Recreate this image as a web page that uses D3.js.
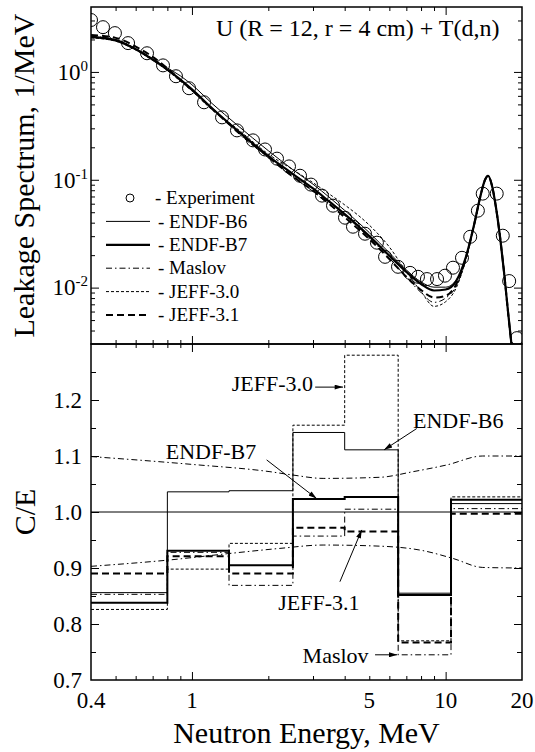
<!DOCTYPE html>
<html>
<head>
<meta charset="utf-8">
<script src="https://cdn.jsdelivr.net/npm/d3@7"></script>
</head>
<body style="margin:0;background:#fff">
<div id="chart"></div>
<script>
const width = 535, height = 752;
const left = 91, right = 522, top1 = 7, mid = 344, bottom2 = 680;
const FONT = "Liberation Serif";

// ---- spectrum data (1/MeV) ----
const energy  = [0.4,0.5,0.6,0.7,0.8,0.9,1.0,1.2,1.5,2.0,2.5,3.0,3.5,4.0,5.0,6.0,7.0,8.0,9.0,10,11,12,13,13.7,14.3,14.7,15.2,15.8,16.4,17.0,17.6,18.2];
const endfB6  = [2.12,1.98,1.64,1.32,1.09,0.92,0.76,0.51,0.325,0.186,0.124,0.091,0.068,0.052,0.0324,0.0210,0.0146,0.0113,0.0101,0.0101,0.0117,0.019,0.040,0.070,0.100,0.109,0.090,0.055,0.029,0.0138,0.0061,0.0029];
const endfB7  = [2.10,1.96,1.62,1.30,1.05,0.85,0.69,0.46,0.29,0.166,0.113,0.083,0.062,0.048,0.030,0.0198,0.0140,0.0108,0.0094,0.0096,0.0115,0.019,0.040,0.070,0.100,0.109,0.090,0.055,0.029,0.0138,0.0061,0.0029];
const maslov  = [2.14,2.00,1.65,1.33,1.05,0.85,0.69,0.46,0.278,0.160,0.106,0.078,0.058,0.0466,0.029,0.0188,0.0125,0.0090,0.0073,0.0080,0.0103,0.018,0.039,0.069,0.099,0.109,0.090,0.055,0.029,0.0138,0.0061,0.0029];
const jeff30  = [2.07,1.93,1.60,1.28,1.03,0.82,0.665,0.445,0.30,0.173,0.124,0.094,0.073,0.0585,0.038,0.0238,0.0140,0.0092,0.0067,0.0074,0.0099,0.018,0.039,0.069,0.100,0.109,0.090,0.055,0.029,0.0138,0.0061,0.0029];
const jeff31  = [2.20,2.07,1.72,1.38,1.08,0.84,0.68,0.455,0.285,0.163,0.107,0.079,0.059,0.045,0.0282,0.0184,0.0126,0.0095,0.0081,0.0084,0.0107,0.0185,0.040,0.070,0.100,0.109,0.090,0.055,0.029,0.0138,0.0061,0.0029];

const expE = [0.400,0.446,0.497,0.560,0.665,0.769,0.865,0.974,1.116,1.314,1.505,1.740,1.941,2.164,2.413,2.667,2.946,3.256,3.598,4.012,4.313,4.81,5.36,5.77,6.49,7.24,7.78,8.44,9.25,9.94,10.69,11.6,12.5,13.4,14.0,15.9,16.8,17.8,19.1];
const expV = [3.03,2.60,2.29,1.85,1.49,1.15,0.912,0.706,0.523,0.379,0.287,0.232,0.191,0.157,0.133,0.109,0.0902,0.0713,0.0575,0.0445,0.0367,0.0316,0.0261,0.0193,0.0156,0.0137,0.0126,0.0120,0.0120,0.0129,0.0153,0.0189,0.0296,0.0517,0.0744,0.0744,0.0303,0.0115,0.0034];

// ---- C/E data, one value per energy group ----
const binEdges = [0.4,0.8,1.4,2.5,4,6.5,10.5,20];
const ceB6     = [0.856,1.036,1.038,1.142,1.111,0.855,1.015];
const ceB7     = [0.838,0.931,0.905,1.023,1.027,0.852,1.022];
const ceMaslov = [0.853,0.928,0.869,0.957,1.005,0.745,1.006];
const ceJeff30 = [0.826,0.898,0.944,1.155,1.280,0.770,1.027];
const ceJeff31 = [0.890,0.921,0.890,0.972,0.965,0.767,0.997];

// experimental uncertainty corridor
const bandUpE = [0.4,1.0,2.03,2.5,3.29,5.51,7.44,10.1,14.0,20];
const bandUpV = [1.099,1.085,1.072,1.066,1.060,1.062,1.072,1.084,1.100,1.100];
const bandLoE = [0.4,0.8,1.41,2.22,3.29,5.51,8.14,10.7,14.0,20];
const bandLoV = [0.903,0.914,0.926,0.935,0.941,0.939,0.931,0.917,0.901,0.900];

// ticks / labels
const xLabels = [0.4, 1, 5, 10, 20];
const xMajor = [1, 10];
const xMinor = [0.5,0.6,0.7,0.8,0.9,2,3,4,5,6,7,8,9];
const yTopMajor = [0.01, 0.1, 1];
const yTopLabels = [["10","-2",0.01],["10","-1",0.1],["10","0",1]];
const yTopMinor = [0.004,0.005,0.006,0.007,0.008,0.009,0.02,0.03,0.04,0.05,0.06,0.07,0.08,0.09,0.2,0.3,0.4,0.5,0.6,0.7,0.8,0.9,2,3];
const yBotMajor = [0.8,0.9,1.0,1.1,1.2];
const yBotLabels = ["0.7","0.8","0.9","1.0","1.1","1.2"];
const yBotMinor = [0.75,0.85,0.95,1.05,1.15,1.25];

// annotations in data coordinates: text position and arrow [E1,v1,E2,v2]
const notes = [
  { t: "JEFF-3.0", e: 3.0,  v: 1.216, anchor: "end",   arrow: [3.06,1.223,3.94,1.223] },
  { t: "ENDF-B6",  e: 7.44, v: 1.150, anchor: "start", arrow: [7.69,1.149,5.72,1.111] },
  { t: "ENDF-B7",  e: 0.788,v: 1.095, anchor: "start", arrow: [1.97,1.093,3.10,1.024] },
  { t: "JEFF-3.1", e: 2.19, v: 0.825, anchor: "start", arrow: [3.83,0.8755,4.67,0.968] },
  { t: "Maslov",   e: 2.73, v: 0.730, anchor: "start", arrow: [5.27,0.745,6.45,0.745] }
];

const series = [
  { name: "ENDF-B6",  spec: endfB6, ce: ceB6,     w: 1,   dash: null },
  { name: "ENDF-B7",  spec: endfB7, ce: ceB7,     w: 2.2, dash: null },
  { name: "Maslov",   spec: maslov, ce: ceMaslov, w: 1,   dash: "6,3,1.5,3" },
  { name: "JEFF-3.0", spec: jeff30, ce: ceJeff30, w: 1,   dash: "3,2" },
  { name: "JEFF-3.1", spec: jeff31, ce: ceJeff31, w: 2,   dash: "7,4" }
];

// ---- scales ----
const x = d3.scaleLog().domain([0.4, 20]).range([left, right]);
const yTop = d3.scaleLog().domain([0.003, 4]).range([mid, top1]);
const yBot = d3.scaleLinear().domain([0.7, 1.3]).range([bottom2, mid]);

const svg = d3.select("#chart").append("svg")
  .attr("width", width).attr("height", height)
  .attr("font-family", FONT);

// every label goes through this so the serif face is set on the element itself
function label(parent, size, txt) {
  return parent.append("text")
    .attr("font-family", FONT)
    .attr("font-size", size)
    .attr("fill", "#000")
    .text(txt);
}

const defs = svg.append("defs");
defs.append("clipPath").attr("id", "clipTop").append("rect")
  .attr("x", left).attr("y", top1).attr("width", right - left).attr("height", mid - top1);
defs.append("clipPath").attr("id", "clipBot").append("rect")
  .attr("x", left).attr("y", mid).attr("width", right - left).attr("height", bottom2 - mid);
defs.append("marker").attr("id", "arrow")
  .attr("viewBox", "0 0 10 6").attr("refX", 10).attr("refY", 3)
  .attr("markerWidth", 10).attr("markerHeight", 5).attr("markerUnits", "userSpaceOnUse")
  .attr("orient", "auto")
  .append("path").attr("d", "M0,0L10,3L0,6Z").attr("fill", "#000");

// ---- top panel: spectra ----
const gTop = svg.append("g").attr("clip-path", "url(#clipTop)");
const specLine = d3.line()
  .x(d => x(d[0])).y(d => yTop(d[1]))
  .curve(d3.curveMonotoneX);

series.forEach(s => {
  gTop.append("path")
    .attr("d", specLine(energy.map((e, i) => [e, s.spec[i]])))
    .attr("fill", "none").attr("stroke", "#000")
    .attr("stroke-width", s.w)
    .attr("stroke-dasharray", s.dash);
});

gTop.selectAll("circle.exp")
  .data(expE.map((e, i) => [e, expV[i]]))
  .enter().append("circle")
  .attr("cx", d => x(d[0])).attr("cy", d => yTop(d[1]))
  .attr("r", 6.5).attr("fill", "none").attr("stroke", "#000").attr("stroke-width", 1);

// ---- bottom panel: C/E ----
const gBot = svg.append("g").attr("clip-path", "url(#clipBot)");
const stepLine = d3.line()
  .x(d => x(d[0])).y(d => yBot(d[1]))
  .curve(d3.curveStepAfter);
const bandLine = d3.line()
  .x(d => x(d[0])).y(d => yBot(d[1]))
  .curve(d3.curveMonotoneX);

gBot.append("line")
  .attr("x1", left).attr("x2", right).attr("y1", yBot(1)).attr("y2", yBot(1))
  .attr("stroke", "#000").attr("stroke-width", 1);

[[bandUpE, bandUpV], [bandLoE, bandLoV]].forEach(([es, vs]) => {
  gBot.append("path")
    .attr("d", bandLine(es.map((e, i) => [e, vs[i]])))
    .attr("fill", "none").attr("stroke", "#000").attr("stroke-width", 1)
    .attr("stroke-dasharray", "6,3,1.5,3");
});

series.forEach(s => {
  const pts = binEdges.map((e, i) => [e, s.ce[Math.min(i, s.ce.length - 1)]]);
  gBot.append("path")
    .attr("d", stepLine(pts))
    .attr("fill", "none").attr("stroke", "#000")
    .attr("stroke-width", s.w === 1 ? 1 : 2)
    .attr("stroke-dasharray", s.dash);
});

// annotations
notes.forEach(n => {
  label(svg, 22, n.t)
    .attr("x", x(n.e)).attr("y", yBot(n.v))
    .attr("text-anchor", n.anchor);
  const a = n.arrow;
  svg.append("line")
    .attr("x1", x(a[0])).attr("y1", yBot(a[1]))
    .attr("x2", x(a[2])).attr("y2", yBot(a[3]))
    .attr("stroke", "#000").attr("stroke-width", 1)
    .attr("marker-end", "url(#arrow)");
});

// ---- frames and ticks ----
function tickAxis(axisFn, scale, values, size, tx, ty) {
  const g = svg.append("g").attr("transform", `translate(${tx},${ty})`)
    .call(axisFn(scale).tickValues(values).tickSize(size).tickFormat(""));
  g.select(".domain").remove();
  g.selectAll("line").attr("stroke", "#000").attr("stroke-width", 1);
}

// x ticks, both panels, inside
[[top1, d3.axisTop], [mid, d3.axisBottom], [mid, d3.axisTop], [bottom2, d3.axisBottom]].forEach(([yy, fn]) => {
  tickAxis(fn, x, xMinor, -4, 0, yy);
  tickAxis(fn, x, xMajor, -8, 0, yy);
});
// y ticks
tickAxis(d3.axisLeft, yTop, yTopMinor, -4, left, 0);
tickAxis(d3.axisLeft, yTop, yTopMajor, -8, left, 0);
tickAxis(d3.axisRight, yTop, yTopMinor, -4, right, 0);
tickAxis(d3.axisRight, yTop, yTopMajor, -8, right, 0);
tickAxis(d3.axisLeft, yBot, yBotMinor, -5, left, 0);
tickAxis(d3.axisLeft, yBot, yBotMajor, -8, left, 0);
tickAxis(d3.axisRight, yBot, yBotMinor, -5, right, 0);
tickAxis(d3.axisRight, yBot, yBotMajor, -8, right, 0);

svg.append("rect").attr("x", left).attr("y", top1).attr("width", right - left).attr("height", mid - top1)
  .attr("fill", "none").attr("stroke", "#000").attr("stroke-width", 1.5);
svg.append("rect").attr("x", left).attr("y", mid).attr("width", right - left).attr("height", bottom2 - mid)
  .attr("fill", "none").attr("stroke", "#000").attr("stroke-width", 1.5);

// tick labels
xLabels.forEach(d => {
  label(svg, 23, d)
    .attr("x", x(d)).attr("y", 708)
    .attr("text-anchor", "middle");
});

yBotLabels.forEach(l => {
  label(svg, 23, l)
    .attr("x", 82).attr("y", yBot(+l)).attr("dy", "0.34em")
    .attr("text-anchor", "end");
});

yTopLabels.forEach(([base, ex, v]) => {
  const t = label(svg, 23, null)
    .attr("x", 88).attr("y", yTop(v)).attr("dy", "0.34em")
    .attr("text-anchor", "end");
  t.append("tspan").attr("font-family", FONT).text(base);
  t.append("tspan").attr("font-family", FONT).attr("dy", "-9").attr("font-size", 15).text(ex);
});

// axis titles
label(svg, 30, "Leakage Spectrum, 1/MeV")
  .attr("transform", `translate(34,${(top1 + mid) / 2}) rotate(-90)`)
  .attr("text-anchor", "middle");
label(svg, 30, "C/E")
  .attr("transform", `translate(35,${(mid + bottom2) / 2}) rotate(-90)`)
  .attr("text-anchor", "middle");
label(svg, 30, "Neutron Energy, MeV")
  .attr("x", (left + right) / 2).attr("y", 743)
  .attr("text-anchor", "middle");

// title
label(svg, 24, "U (R = 12, r = 4 cm) + T(d,n)")
  .attr("x", 216).attr("y", 36);

// ---- legend ----
const legend = svg.append("g");
const legY = i => 198 + i * 23.4;
legend.append("circle").attr("cx", 130).attr("cy", legY(0)).attr("r", 4)
  .attr("fill", "none").attr("stroke", "#000");
label(legend, 19, "- Experiment")
  .attr("x", 155).attr("y", legY(0)).attr("dy", "0.33em");
series.forEach((s, i) => {
  legend.append("line")
    .attr("x1", 106).attr("x2", 150).attr("y1", legY(i + 1)).attr("y2", legY(i + 1))
    .attr("stroke", "#000").attr("stroke-width", s.w).attr("stroke-dasharray", s.dash);
  label(legend, 19, "- " + s.name)
    .attr("x", 158).attr("y", legY(i + 1)).attr("dy", "0.33em");
});
</script>
</body>
</html>
